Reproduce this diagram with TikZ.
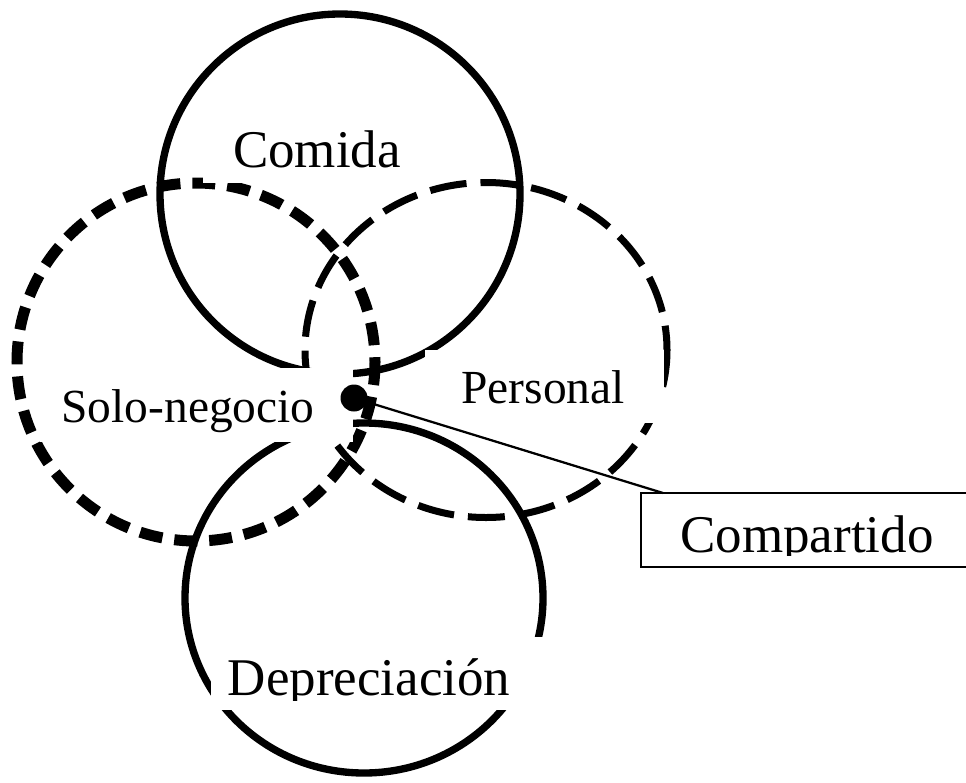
\documentclass[tikz,border=0pt]{standalone}
\usepackage{fontspec}
\setmainfont{Liberation Serif}
\usetikzlibrary{positioning}

\begin{document}
\begin{tikzpicture}[x=0.75pt, y=-0.75pt,
  ring/.style={line width=5.5pt},
  heavydash/.style={line width=8.25pt, dash pattern=on 17.25pt off 9pt},
  lightdash/.style={line width=5.25pt, dash pattern=on 27.75pt off 10.5pt},
  whitebox/.style={fill=white},
  bigtxt/.style={font=\fontsize{39.75}{44}\selectfont, inner sep=0pt, anchor=base},
  smalltxt/.style={font=\fontsize{35.6}{40}\selectfont, inner sep=0pt, anchor=base}]
\clip (0,0) rectangle (966,782);
% the four sets
\draw[ring] (340,194) circle [radius=180];
\draw[heavydash] (196,362) circle [radius=179];
\draw[lightdash] (486,350) ellipse [x radius=181, y radius=167.5];
\draw[ring] (364,598) ellipse [x radius=179, y radius=175];
% label boxes
\fill[whitebox] (203,110) rectangle (430,183);
\fill[whitebox] (40,368) rectangle (353,442);
\fill[whitebox] (425,350) rectangle (664,423);
\fill[whitebox] (211,637) rectangle (545,710);
\node[bigtxt] (comida) at (317,167) {Comida};
\node[smalltxt] (solo) at (188,422) {Solo-negocio};
\node[smalltxt] (personal) at (543,403) {Personal};
\begin{scope}
  \clip (211,637) rectangle (545,700);
  \node[bigtxt] (deprec) at (369,695) {Depreciación};
\end{scope}
% shared part
\draw[line width=1.5pt] (641,493) rectangle (990,567);
\begin{scope}
  \clip (641,493) rectangle (990,555);
  \node[bigtxt] (shared) at (807,552) {Compartido};
\end{scope}
\coordinate (tip) at (663,493);
\node[circle, fill=black, inner sep=0pt, minimum size=20.25pt] (dot) at (354,398) {};
\draw[line width=1.7pt] (dot) -- (tip);
\end{tikzpicture}
\end{document}
